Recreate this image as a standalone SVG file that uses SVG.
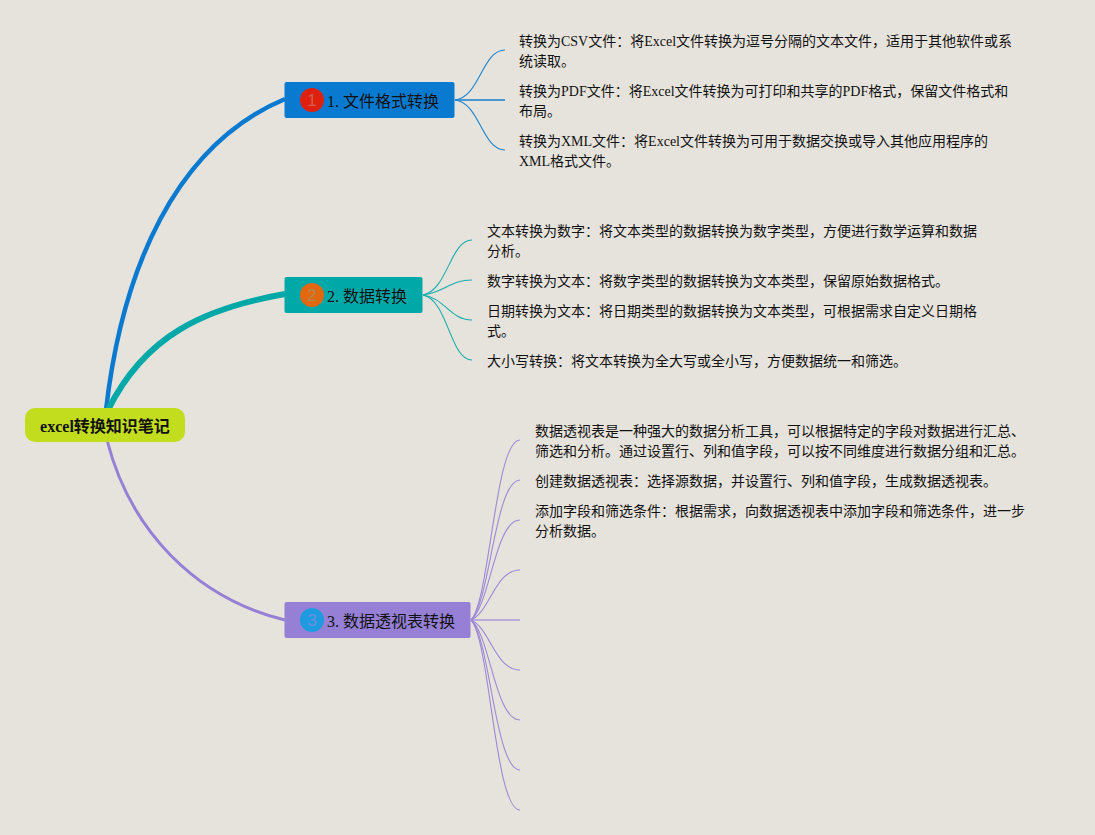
<svg xmlns="http://www.w3.org/2000/svg" width="1095" height="835" viewBox="0 0 1095 835">
<style>
text{font-family:"Liberation Serif","Noto Sans CJK SC",serif;fill:#111}
.t{font-size:14px}
.m{font-size:16px}
.r{font-size:16px;font-weight:bold}
.b{font-size:17px;text-anchor:middle;font-family:"Liberation Sans",sans-serif}
#connectors path{fill:none}
.c1{stroke:#0a7ad0}.c2{stroke:#00a8a8}.c3{stroke:#9580d5}
.l{stroke-width:1.100;opacity:.9}
</style>
<rect width="1095" height="835" fill="#e6e3dc"/>
<g id="connectors">
<path class="c1" stroke-width="4.500" d="M106 410C122 270 175 145 285 99"/>
<path class="c2" stroke-width="6" d="M108 410C145 335 205 308 285 294"/>
<path class="c3" stroke-width="3" d="M107 440C130 530 195 598 285 620"/>
<g class="l">
<path class="c1" d="M455 100C480 97 482 50 505 50"/>
<path class="c1" stroke-width="2" opacity=".8" d="M455 100H505"/>
<path class="c1" d="M455 100C480 103 482 150 505 150"/>
<path class="c2" d="M423 295C448 290 450 240 472 240"/>
<path class="c2" d="M423 295C445 292 450 280 472 280"/>
<path class="c2" d="M423 295C445 298 450 320 472 320"/>
<path class="c2" d="M423 295C448 300 450 360 472 360"/>
<path class="c3" d="M471 620C490 600 495 440 520 440"/>
<path class="c3" d="M471 620C490 603 495 480 520 480"/>
<path class="c3" d="M471 620C490 606 495 520 520 520"/>
<path class="c3" d="M471 620C490 612 495 570 520 570"/>
<path class="c3" stroke-width="1.500" opacity=".8" d="M471 620H520"/>
<path class="c3" d="M471 620C490 628 495 670 520 670"/>
<path class="c3" d="M471 620C490 634 495 720 520 720"/>
<path class="c3" d="M471 620C490 637 495 770 520 770"/>
<path class="c3" d="M471 620C490 640 495 810 520 810"/>
</g>
</g>
<g id="root">
<rect x="25" y="408" width="160" height="34" rx="10" fill="#c2dd1e"/>
<text class="r" x="105" y="431.500" text-anchor="middle">excel转换知识笔记</text>
</g>
<g id="topic1">
<rect x="284.500" y="82" width="170" height="36" rx="2" fill="#0a7ad0"/>
<circle cx="312" cy="100" r="12" fill="#e0200e"/>
<text class="b" x="312" y="106" style="fill:#d0604f">1</text>
<text class="m" x="327" y="107">1. 文件格式转换</text>
</g>
<g id="topic2">
<rect x="284.500" y="277" width="138" height="36" rx="2" fill="#00a8a8"/>
<circle cx="312" cy="295" r="12" fill="#e2670e"/>
<text class="b" x="312" y="301" style="fill:#b08a50">2</text>
<text class="m" x="327" y="302">2. 数据转换</text>
</g>
<g id="topic3">
<rect x="284.500" y="602" width="186" height="36" rx="2" fill="#9580d5"/>
<circle cx="312" cy="620" r="12" fill="#1e9be0"/>
<text class="b" x="312" y="626" style="fill:#6f8fdc">3</text>
<text class="m" x="327" y="627">3. 数据透视表转换</text>
</g>
<g id="leaf1-1"><text class="t" x="519" y="46">转换为CSV文件：将Excel文件转换为逗号分隔的文本文件，适用于其他软件或系</text><text class="t" x="519" y="66">统读取。</text></g>
<g id="leaf1-2"><text class="t" x="519" y="96">转换为PDF文件：将Excel文件转换为可打印和共享的PDF格式，保留文件格式和</text><text class="t" x="519" y="116">布局。</text></g>
<g id="leaf1-3"><text class="t" x="519" y="146">转换为XML文件：将Excel文件转换为可用于数据交换或导入其他应用程序的</text><text class="t" x="519" y="166">XML格式文件。</text></g>
<g id="leaf2-1"><text class="t" x="487" y="236">文本转换为数字：将文本类型的数据转换为数字类型，方便进行数学运算和数据</text><text class="t" x="487" y="256">分析。</text></g>
<g id="leaf2-2"><text class="t" x="487" y="286">数字转换为文本：将数字类型的数据转换为文本类型，保留原始数据格式。</text></g>
<g id="leaf2-3"><text class="t" x="487" y="316">日期转换为文本：将日期类型的数据转换为文本类型，可根据需求自定义日期格</text><text class="t" x="487" y="336">式。</text></g>
<g id="leaf2-4"><text class="t" x="487" y="366">大小写转换：将文本转换为全大写或全小写，方便数据统一和筛选。</text></g>
<g id="leaf3-1"><text class="t" x="535" y="436">数据透视表是一种强大的数据分析工具，可以根据特定的字段对数据进行汇总、</text><text class="t" x="535" y="456">筛选和分析。通过设置行、列和值字段，可以按不同维度进行数据分组和汇总。</text></g>
<g id="leaf3-2"><text class="t" x="535" y="486">创建数据透视表：选择源数据，并设置行、列和值字段，生成数据透视表。</text></g>
<g id="leaf3-3"><text class="t" x="535" y="516">添加字段和筛选条件：根据需求，向数据透视表中添加字段和筛选条件，进一步</text><text class="t" x="535" y="536">分析数据。</text></g>
</svg>
